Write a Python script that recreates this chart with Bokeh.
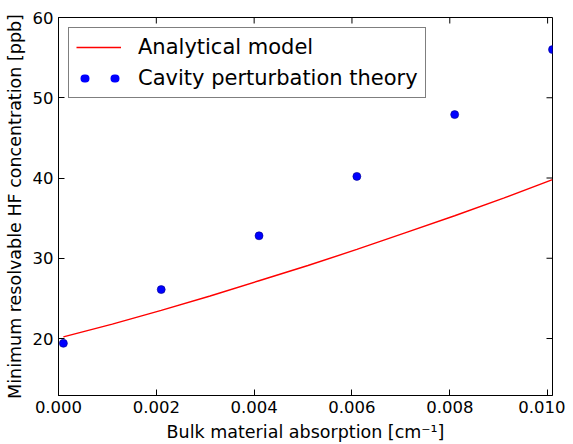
import math
from bokeh.plotting import figure
from bokeh.models import Range1d, FixedTicker, NumeralTickFormatter, Legend, LegendItem
from bokeh.embed import file_html
from bokeh.resources import INLINE

# data
absorption = [0.0001, 0.0021, 0.0041, 0.0061, 0.0081, 0.0101]
cpt_ppb = [19.4, 26.1, 32.8, 40.2, 47.9, 56.0]
model_x = [0.0001, 0.0011, 0.0021, 0.0031, 0.0041, 0.0051, 0.0061, 0.0071, 0.0081, 0.0091, 0.0101]
model_ppb = [20.2, 21.8, 23.5, 25.3, 27.2, 29.1, 31.1, 33.2, 35.3, 37.5, 39.8]
x_ticks = [0.0, 0.002, 0.004, 0.006, 0.008, 0.010]
y_ticks = [20, 30, 40, 50, 60]
x_min, x_max = 0.0, 0.0101
y_min, y_max = 12.9, 60.0

FONT = "DejaVu Sans"

p = figure(width=565, height=444, output_backend="svg", toolbar_location=None,
           x_range=Range1d(x_min, x_max), y_range=Range1d(y_min, y_max),
           min_border_left=58, min_border_right=13, min_border_top=17, min_border_bottom=47)
p.xgrid.visible = False
p.ygrid.visible = False
p.outline_line_color = "black"
p.outline_line_width = 1
p.background_fill_color = "white"
p.border_fill_color = "white"

line_r = p.line(model_x, model_ppb, line_color="#ff0000", line_width=1.4)
pts_r = p.scatter(absorption, cpt_ppb, size=8, fill_color="#0000ff", line_color="#00008b", line_width=0.6)
# legend-only glyph (NaN data, never drawn in the plot): two dots as in the original legend
nan = float("nan")
leg_dots = p.line([nan], [nan], line_color="#0000ff", line_width=8, line_cap="round",
                  line_dash="1 29", line_dash_offset=-8)

# inward ticks on the top and right sides of the frame
p.ray(x=x_ticks, y=[y_max] * len(x_ticks), length=6, length_units="screen",
      angle=-math.pi / 2, line_color="black", line_width=1)
p.ray(x=[x_max] * len(y_ticks), y=y_ticks, length=6, length_units="screen",
      angle=math.pi, line_color="black", line_width=1)

def style_axis(ax):
    ax.major_tick_in = 6
    ax.major_tick_out = 0
    ax.minor_tick_in = 0
    ax.minor_tick_out = 0
    ax.axis_line_color = "black"
    ax.major_tick_line_color = "black"
    ax.major_label_text_font = FONT
    ax.major_label_text_font_size = "16.5px"
    ax.major_label_text_color = "black"
    ax.major_label_standoff = 5
    ax.axis_label_text_font = FONT
    ax.axis_label_text_font_size = "17.5px"
    ax.axis_label_text_font_style = "normal"
    ax.axis_label_text_color = "black"

xa = p.xaxis[0]
ya = p.yaxis[0]
xa.ticker = FixedTicker(ticks=x_ticks)
xa.formatter = NumeralTickFormatter(format="0.000")
ya.ticker = FixedTicker(ticks=y_ticks)
xa.axis_label = "Bulk material absorption [cm\u207b\u00b9]"
ya.axis_label = "Minimum resolvable HF concentration [ppb]"
style_axis(xa)
style_axis(ya)
xa.axis_label_standoff = 6
ya.axis_label_standoff = 5

legend = Legend(items=[
    LegendItem(label="Analytical model", renderers=[line_r]),
    LegendItem(label="Cavity perturbation theory", renderers=[leg_dots]),
], location="top_left")
legend.margin = 10
legend.padding = 7
legend.spacing = 7
legend.glyph_width = 45
legend.glyph_height = 24
legend.label_height = 24
legend.label_standoff = 17
legend.label_text_font = FONT
legend.label_text_font_size = "21px"
legend.label_text_color = "black"
legend.border_line_color = "black"
legend.border_line_width = 1
legend.background_fill_color = "white"
legend.background_fill_alpha = 1
p.add_layout(legend)

open("out.html", "w").write(file_html(p, INLINE))
